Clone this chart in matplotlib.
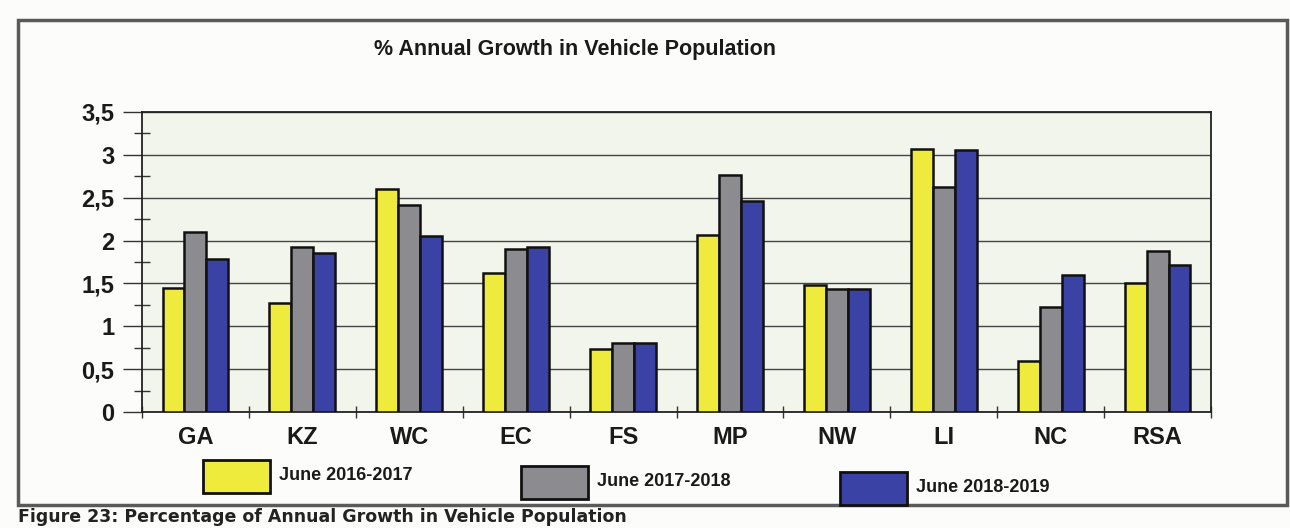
import matplotlib
matplotlib.use("Agg")
import matplotlib.pyplot as plt
import numpy as np
from matplotlib.patches import Rectangle
from matplotlib.ticker import MultipleLocator, FuncFormatter

# data
regions = ["GA", "KZ", "WC", "EC", "FS", "MP", "NW", "LI", "NC", "RSA"]
growth_1617 = [1.45, 1.27, 2.60, 1.62, 0.73, 2.07, 1.48, 3.07, 0.60, 1.50]
growth_1718 = [2.10, 1.93, 2.42, 1.90, 0.80, 2.77, 1.43, 2.63, 1.22, 1.88]
growth_1819 = [1.78, 1.86, 2.05, 1.92, 0.80, 2.46, 1.44, 3.06, 1.60, 1.71]
series_names = ["June 2016-2017", "June 2017-2018", "June 2018-2019"]
colors = ["#eeeb3c", "#8c8c90", "#3a43a5"]

plt.rcParams["font.family"] = ["Liberation Sans", "DejaVu Sans"]

W, H = 1290, 528
fig = plt.figure(figsize=(W / 100, H / 100), dpi=100, facecolor="#fcfcfb")

# outer frame of the scanned figure
fig.add_artist(Rectangle((18 / W, 1 - 505 / H), (1287 - 18) / W, (505 - 20) / H,
                         transform=fig.transFigure, fill=False,
                         edgecolor="#5a5a5a", linewidth=2.5))

ax = fig.add_axes([142 / W, 1 - 412 / H, (1211 - 142) / W, 300 / H])
ax.set_facecolor("#f1f5ec")

x = np.arange(len(regions))
bw = 0.205
all_series = [growth_1617, growth_1718, growth_1819]
for i, vals in enumerate(all_series):
    ax.bar(x + (i - 1) * bw, vals, width=bw, color=colors[i],
           edgecolor="#111111", linewidth=1.8, zorder=3)

ax.set_xlim(-0.5, len(regions) - 0.5)
ax.set_ylim(0, 3.5)

# y axis: comma decimals, gridlines, minor ticks crossing the spine
ax.yaxis.set_major_locator(MultipleLocator(0.5))
ax.yaxis.set_minor_locator(MultipleLocator(0.25))
ax.yaxis.set_major_formatter(FuncFormatter(
    lambda v, p: ("%g" % v).replace(".", ",")))
ax.tick_params(axis="y", which="major", direction="out", length=14,
               width=1, color="#333333", labelsize=17, pad=6)
ax.tick_params(axis="y", which="minor", direction="inout", length=12,
               width=1, color="#333333")
ax.grid(axis="y", which="major", color="#444444", linewidth=1, zorder=0)

# x axis: labels at centres, ticks at group boundaries
ax.set_xticks(x)
ax.set_xticklabels(regions)
ax.set_xticks(np.arange(-0.5, len(regions), 1.0), minor=True)
ax.tick_params(axis="x", which="major", length=0, labelsize=17, pad=10)
ax.tick_params(axis="x", which="minor", direction="inout", length=9,
               width=1, color="#333333")
for lab in ax.get_xticklabels() + ax.get_yticklabels():
    lab.set_fontweight("bold")
    lab.set_color("#1a1a1a")

for s in ax.spines.values():
    s.set_color("#222222")
    s.set_linewidth(1.3)

fig.text(575 / W, 1 - 50 / H, "% Annual Growth in Vehicle Population",
         ha="center", va="center", fontsize=15.5, fontweight="bold",
         color="#1a1a1a")

# legend boxes drawn by hand to sit where the scan has them
leg_box_x = [203, 521, 840]
leg_box_y = [460, 466, 472]
for i in range(3):
    bx, by = leg_box_x[i], leg_box_y[i]
    fig.add_artist(Rectangle((bx / W, 1 - (by + 33) / H), 67 / W, 33 / H,
                             transform=fig.transFigure, facecolor=colors[i],
                             edgecolor="#111111", linewidth=2))
    fig.text((bx + 76) / W, 1 - (by + 16) / H, series_names[i],
             ha="left", va="center", fontsize=13, fontweight="bold",
             color="#1a1a1a")

# caption under the frame (cut off in the scan, kept whole here)
fig.text(18 / W, 2 / H, "Figure 23: Percentage of Annual Growth in Vehicle Population",
         ha="left", va="bottom", fontsize=12.5, fontweight="bold",
         family=["DejaVu Sans"], color="#222222")

fig.savefig("out.png", dpi=100, facecolor=fig.get_facecolor())
